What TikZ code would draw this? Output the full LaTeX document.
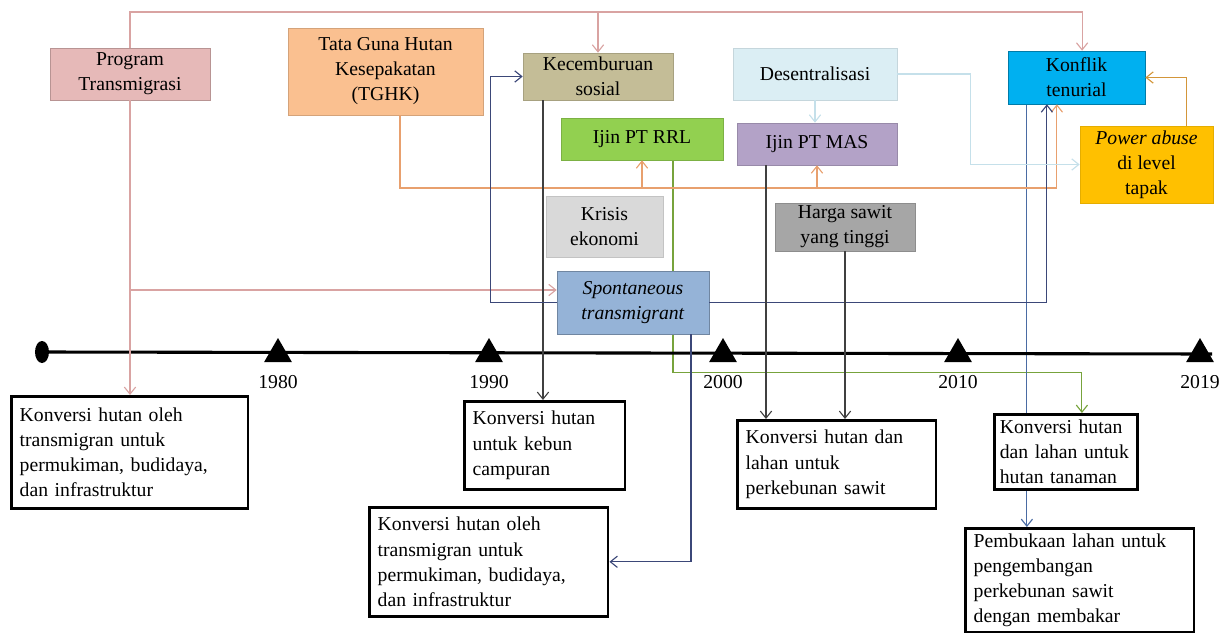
\documentclass[tikz,border=0pt]{standalone}
\usepackage{fontspec}
\setmainfont{Liberation Serif}
\usetikzlibrary{arrows.meta,positioning,shapes.geometric,backgrounds}
\hyphenpenalty=10000
\exhyphenpenalty=10000
\definecolor{prg}{HTML}{E6B9B8}
\definecolor{tgh}{HTML}{FAC090}
\definecolor{kcb}{HTML}{C4BD97}
\definecolor{dsn}{HTML}{DBEEF4}
\definecolor{knf}{HTML}{00B0F0}
\definecolor{rrl}{HTML}{92D050}
\definecolor{mas}{HTML}{B3A2C7}
\definecolor{pwr}{HTML}{FFC000}
\definecolor{krs}{HTML}{D9D9D9}
\definecolor{hrg}{HTML}{A6A6A6}
\definecolor{spn}{HTML}{95B3D7}
\definecolor{lpink}{HTML}{D9A3A2}
\definecolor{lorange}{HTML}{E8A06E}
\definecolor{lnavy}{HTML}{3B4778}
\definecolor{lgreen}{HTML}{77A33C}
\definecolor{lblue}{HTML}{C5E0EA}
\definecolor{ldark}{HTML}{404040}
\definecolor{lsteel}{HTML}{4A6BA3}
\definecolor{lgold}{HTML}{D3963A}

\begin{document}
\begin{tikzpicture}[x=0.025cm, y=-0.025cm, every node/.style={font=\fontsize{14}{17.8}\selectfont},
  b/.style={draw, align=center, inner sep=2pt},
  kv/.style={draw, line width=1.8pt, anchor=north west, align=left, inner xsep=6pt},
  tk/.style={regular polygon, regular polygon sides=3, fill=black, inner sep=0pt, minimum size=0.8cm},
  cn/.style={line width=0.8pt, -{Straight Barb[length=5pt,width=8pt]}}]
\useasboundingbox (0,0) rectangle (1229,632);
% causes
\node[b, fill=prg, draw=prg!80!black, minimum width=4cm, minimum height=1.3cm] (prog) at (130,74) {Program\\Transmigrasi};
\node[b, fill=tgh, draw=tgh!85!black, minimum width=4.875cm, minimum height=2.175cm] (tghk) at (385.5,71.5) {Tata Guna Hutan\\Kesepakatan\\(TGHK)};
\node[b, fill=kcb, draw=kcb!85!black, minimum width=3.75cm, minimum height=1.175cm] (kec) at (598,76.5) {Kecemburuan\\sosial};
\node[b, fill=dsn, draw=dsn!90!black, minimum width=4.1cm, minimum height=1.3cm] (des) at (815,74) {Desentralisasi};
\node[b, fill=knf, draw=knf!70!black, minimum width=3.425cm, minimum height=1.325cm] (konf) at (1076.5,77.5) {Konflik\\tenurial};
\node[b, fill=rrl, draw=rrl!85!black, minimum width=4.05cm, minimum height=1.05cm] (rrl) at (642,139) {Ijin PT RRL};
\node[b, fill=mas, draw=mas!85!black, minimum width=4cm, minimum height=1.05cm] (mas) at (817,144) {Ijin PT MAS};
\node[b, fill=pwr, draw=pwr!90!black, minimum width=3.325cm, minimum height=1.925cm] (pow) at (1146.5,164.5) {\textit{Power abuse}\\di level\\tapak};
\node[b, fill=krs, draw=krs!90!black, minimum width=2.925cm, minimum height=1.525cm] (kris) at (604.5,226.5) {Krisis\\ekonomi};
\node[b, fill=hrg, draw=hrg!85!black, minimum width=3.5cm, minimum height=1.2cm] (harga) at (845,227) {Harga sawit\\yang tinggi};
\node[b, fill=spn, draw=spn!75!black, minimum width=3.8cm, minimum height=1.575cm] (spon) at (633,302.5) {\textit{Spontaneous}\\\textit{transmigrant}};
% timeline
\node[ellipse, fill=black, inner sep=0pt, minimum width=0.35cm, minimum height=0.55cm] (dot) at (42,352) {};
\foreach \x/\yr in {278/1980, 489/1990, 723/2000, 958/2010, 1200/2019} {
  \node[tk] (t\yr) at (\x,354) {};
  \node (l\yr) at (\x,382) {\yr};
}
\draw[line width=2.2pt] (dot.center) -- ([xshift=0.3cm]t2019.center);
% outcomes
\node[kv, fill=white, text width=5.5cm, minimum height=2.8cm] (b1) at (10,395) {Konversi hutan oleh\\transmigran untuk\\permukiman, budidaya,\\dan infrastruktur};
\node[kv, fill=white, text width=3.6cm, minimum height=2.2cm] (b2) at (463,400) {Konversi hutan\\untuk kebun\\campuran};
\node[kv, fill=white, text width=5.55cm, minimum height=2.725cm] (b3) at (368,506) {Konversi hutan oleh\\transmigran untuk\\permukiman, budidaya,\\dan infrastruktur};
\node[kv, fill=white, text width=4.55cm, minimum height=2.2cm] (b4) at (736,419) {Konversi hutan dan\\lahan untuk\\perkebunan sawit};
\node[kv, fill=white, text width=3.3cm, inner xsep=4pt, minimum height=1.875cm] (b5) at (993,413) {Konversi hutan\\dan lahan untuk\\hutan tanaman};
\node[kv, fill=white, text width=5.3cm, minimum height=2.6cm] (b6) at (964,527) {Pembukaan lahan untuk\\pengembangan\\perkebunan sawit\\dengan membakar};
% links
\coordinate (ptop) at (130,12);
\coordinate (pmid) at (130,290);
\draw[cn, lpink] (prog.north) -- (ptop) -| ([xshift=0.14cm]konf.north);
\draw[cn, lpink] (ptop -| kec.north) -- (kec.north);
\draw[cn, lpink] (prog.south) -- (prog.south |- b1.north);
\draw[cn, lpink] (pmid) -- (pmid -| spon.west);
\coordinate (tbar) at (400,188);
\draw[cn, lorange] (tghk.south -| tbar) -- (tbar) -| ([xshift=-0.49cm]konf.south);
\draw[cn, lorange] (tbar -| rrl.south) -- (rrl.south);
\draw[cn, lorange] (tbar -| mas.south) -- (mas.south);
\draw[cn, ldark] ([xshift=-1.375cm]kec.south) coordinate (k1) -- (k1 |- b2.north);
\draw[cn, lnavy] (spon.west) -- ++(-66,0) |- (kec.west);
\draw[cn, lnavy] (spon.east) -| ([xshift=-0.74cm]konf.south);
\draw[cn, lnavy] ([xshift=1.45cm]spon.south) |- (b3.east);
\draw[cn, lblue] (des.south) -- (des.south |- mas.north);
\draw[cn, lblue] (des.east) -- ++(73,0) |- (pow.west);
\draw[cn, ldark] ([xshift=-1.275cm]mas.south) coordinate (m1) -- (m1 |- b4.north);
\draw[cn, ldark] (harga.south) -- (harga.south |- b4.north);
\draw[cn, lgold] ([xshift=1.0cm]pow.north) |- (konf.east);
\begin{pgfonlayer}{background}
\draw[cn, lgreen] ([xshift=0.775cm]rrl.south) -- ++(0,212) -| ([xshift=0.4cm]b5.north);
\draw[cn, lsteel] ([xshift=-1.24cm]konf.south) coordinate (c1) -- (c1 |- b6.north);
\end{pgfonlayer}
\end{tikzpicture}
\end{document}
